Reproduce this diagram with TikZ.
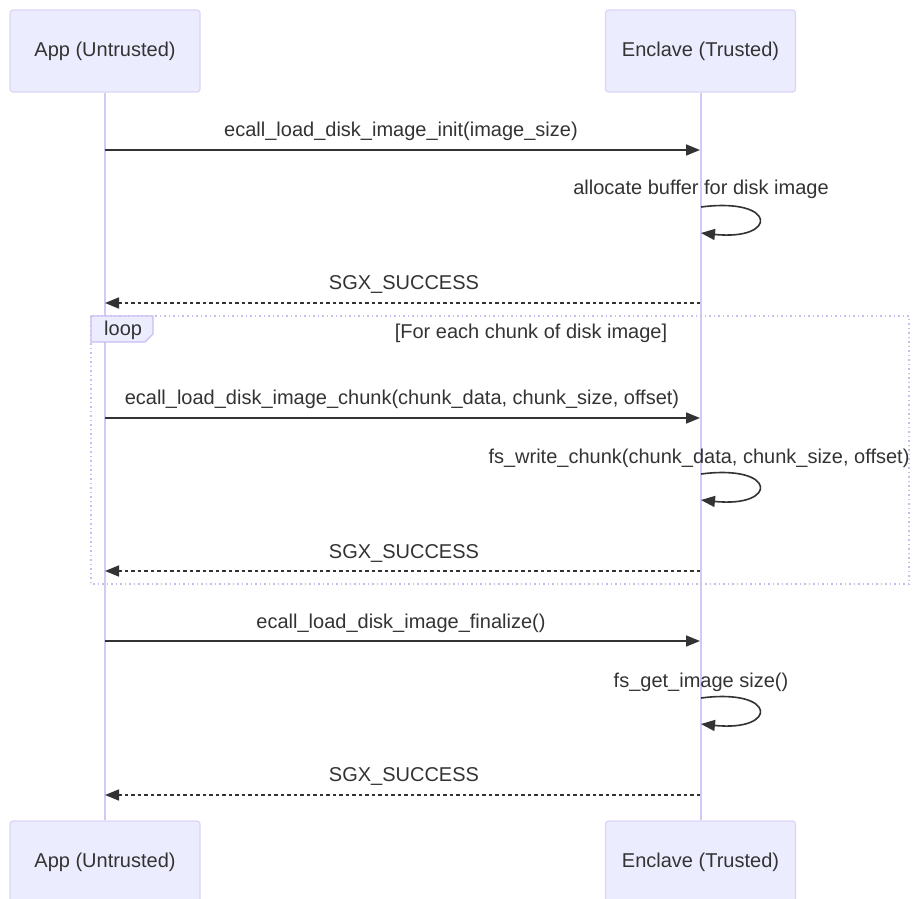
\documentclass[tikz,border=0pt]{standalone}
\usepackage{fontspec}
\setmainfont{Liberation Sans}
\usetikzlibrary{arrows.meta}
\definecolor{boxfill}{HTML}{ECECFF}
\definecolor{boxline}{HTML}{DCD4F6}
\definecolor{lifeline}{HTML}{D4C8F4}
\definecolor{txt}{HTML}{333333}
\definecolor{loopline}{HTML}{C9BDF0}
\tikzset{
  actor/.style={draw=boxline, line width=1.2pt, fill=boxfill, rounded corners=3pt,
    minimum width=190pt, minimum height=82pt, inner sep=0pt, text=txt,
    font=\fontsize{20}{24}\selectfont},
  lbl/.style={text=txt, inner sep=0pt, font=\fontsize{20}{24}\selectfont},
  life/.style={draw=lifeline, line width=2pt},
  msg/.style={draw=txt, line width=1.6pt, -{Triangle[length=14pt,width=11pt]}},
  reply/.style={msg, dash pattern=on 3.5pt off 3pt},
  loopbox/.style={draw=loopline, line width=1.5pt, dash pattern=on 1.5pt off 3pt},
}
\begin{document}
\begin{tikzpicture}[x=1pt,y=-1pt]
\useasboundingbox (0,0) rectangle (916,899);
% participants
\node[actor] (appT) at (105,51) {App (Untrusted)};
\node[actor] (encT) at (700.5,51) {Enclave (Trusted)};
\node[actor] (appB) at (105,862) {App (Untrusted)};
\node[actor] (encB) at (700.5,862) {Enclave (Trusted)};
% lifelines
\draw[life] (appT.south) -- (appB.north);
\draw[life] (encT.south) -- (encB.north);
% loop frame
\draw[loopbox] (91,316) rectangle (909,584);
\node[inner sep=0pt, minimum size=0pt] (looptab) at (91,316) {};
\draw[draw=loopline, line width=1.2pt, fill=boxfill] (looptab.center) -- ++(62,0) -- ++(0,18) -- ++(-8,8) -- ++(-54,0) -- cycle;
\node[lbl, anchor=west] (looplbl) at (104,330) {loop};
\node[lbl] (loopcond) at (531,333) {[For each chunk of disk image]};
% coordinates on lifelines
\foreach \n/\y in {1/150,4/418,7/641}{
  \coordinate (a\n) at (105,\y);
  \coordinate (e\n) at (700,\y);
}
\foreach \n/\y in {3/303,6/571,9/795}{
  \coordinate (a\n) at (105,\y);
  \coordinate (e\n) at (700,\y);
}
\foreach \n/\y in {2/207,5/474,8/698}{
  \coordinate (s\n) at (701,\y);
  \coordinate (t\n) at (701,\y+26);
}
% message 1
\node[lbl] (m1) at (401,131) {ecall\_load\_disk\_image\_init(image\_size)};
\draw[msg] (a1) -- (e1);
% self 2
\node[lbl] (m2) at (701,189) {allocate buffer for disk image};
\draw[msg] (s2) .. controls (778,197) and (778,241) .. (t2);
% reply 3
\node[lbl] (m3) at (404,285) {SGX\_SUCCESS};
\draw[reply] (e3) -- (a3);
% message 4
\node[lbl] (m4) at (402,399) {ecall\_load\_disk\_image\_chunk(chunk\_data, chunk\_size, offset)};
\draw[msg] (a4) -- (e4);
% self 5
\node[lbl] (m5) at (699,458) {fs\_write\_chunk(chunk\_data, chunk\_size, offset)};
\draw[msg] (s5) .. controls (778,464) and (778,508) .. (t5);
% reply 6
\node[lbl] (m6) at (404,553) {SGX\_SUCCESS};
\draw[reply] (e6) -- (a6);
% message 7
\node[lbl] (m7) at (401,623) {ecall\_load\_disk\_image\_finalize()};
\draw[msg] (a7) -- (e7);
% self 8
\node[lbl] (m8) at (701,682) {fs\_get\_image size()};
\draw[msg] (s8) .. controls (778,688) and (778,732) .. (t8);
% reply 9
\node[lbl] (m9) at (404,776) {SGX\_SUCCESS};
\draw[reply] (e9) -- (a9);
\end{tikzpicture}
\end{document}
